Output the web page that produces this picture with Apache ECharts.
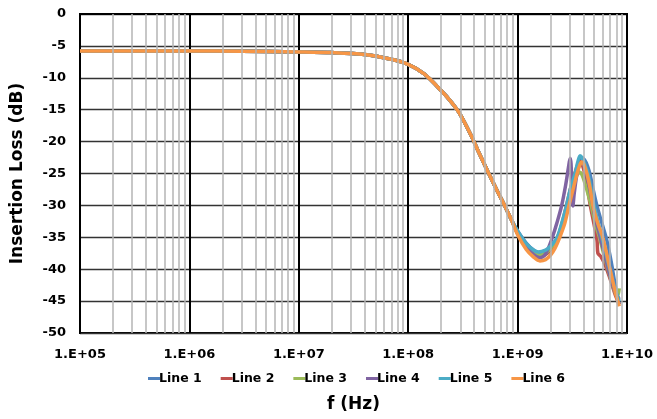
<!DOCTYPE html>
<html>
<head>
<meta charset="utf-8">
<script src="https://cdn.jsdelivr.net/npm/echarts@6/dist/echarts.min.js"></script>
<style>
  html, body { margin: 0; padding: 0; background: #fff; }
  #chart { width: 657px; height: 419px; }
</style>
</head>
<body>
<div id="chart"></div>
<script>
// Shared low-frequency part (all six traces overlap here)
const freqBase = [1e5, 3e5, 1e6, 3e6, 1e7, 2e7, 4e7, 7e7, 1e8, 1.4e8, 2e8, 2.5e8, 3e8, 3.8e8, 4.5e8, 5.45e8, 6.5e8, 7.6e8, 8.8e8];
const lossBase = [-5.8, -5.8, -5.8, -5.85, -5.95, -6.05, -6.35, -7.1, -7.9, -9.4, -12.0, -13.9, -15.8, -19.2, -22.0, -25.0, -27.7, -30.0, -32.3];

// Resonance region, per trace
const freq1 = [1e9, 1.2e9, 1.4e9, 1.6e9, 1.8e9, 2e9, 2.3e9, 2.55e9, 2.8e9, 3.05e9, 3.35e9, 3.6e9, 3.85e9, 4.1e9, 4.35e9, 4.6e9, 4.95e9, 5.3e9, 5.9e9, 6.5e9, 7.2e9, 7.8e9, 8.5e9];
const loss1 = [-34.0, -35.9, -37.0, -37.4, -37.2, -36.6, -35.3, -33.2, -30.8, -28.2, -25.6, -23.5, -22.5, -22.9, -23.8, -25.2, -27.8, -30.0, -32.8, -35.3, -39.0, -42.5, -45.5];

const freq2 = [1e9, 1.2e9, 1.4e9, 1.6e9, 1.8e9, 2e9, 2.3e9, 2.55e9, 2.8e9, 3.05e9, 3.35e9, 3.55e9, 3.72e9, 4.0e9, 4.3e9, 4.62e9, 5.0e9, 5.32e9, 5.42e9, 5.75e9, 6.3e9, 7.0e9, 7.8e9, 8.5e9];
const loss2 = [-34.4, -36.5, -37.7, -38.0, -37.7, -37.0, -35.2, -32.8, -30.0, -27.3, -24.9, -23.6, -23.1, -24.2, -26.8, -30.0, -33.0, -35.5, -37.5, -38.0, -39.3, -41.5, -44.0, -45.5];

const freq3 = [1e9, 1.2e9, 1.4e9, 1.6e9, 1.8e9, 2e9, 2.3e9, 2.55e9, 2.8e9, 3.05e9, 3.35e9, 3.55e9, 3.7e9, 3.9e9, 4.2e9, 4.5e9, 4.75e9, 5.2e9, 5.6e9, 6.1e9, 6.7e9, 7.3e9, 7.9e9, 8.2e9, 8.5e9];
const loss3 = [-34.4, -36.3, -37.5, -37.8, -37.5, -36.8, -35.2, -33.0, -30.5, -28.0, -25.9, -25.0, -24.8, -25.3, -27.0, -28.8, -30.3, -33.2, -35.0, -37.5, -40.0, -42.2, -43.9, -44.2, -43.0];

const freq4 = [1e9, 1.2e9, 1.4e9, 1.6e9, 1.75e9, 1.9e9, 2.08e9, 2.3e9, 2.53e9, 2.75e9, 2.92e9, 3.02e9, 3.08e9, 3.14e9, 3.2e9, 3.3e9, 3.5e9, 3.75e9, 4.0e9, 4.3e9, 4.7e9, 5.1e9, 5.6e9, 6.3e9, 7.0e9, 7.8e9, 8.5e9];
const loss4 = [-34.3, -36.4, -37.7, -38.2, -37.9, -36.8, -35.0, -32.6, -30.0, -26.8, -24.0, -22.6, -23.5, -27.5, -30.1, -28.0, -25.0, -23.4, -23.6, -25.4, -28.6, -31.8, -34.5, -38.0, -41.0, -43.6, -44.7];

const freq5 = [1e9, 1.2e9, 1.4e9, 1.55e9, 1.8e9, 2e9, 2.3e9, 2.55e9, 2.8e9, 3.05e9, 3.35e9, 3.55e9, 3.72e9, 3.9e9, 4.15e9, 4.4e9, 4.7e9, 5.0e9, 5.5e9, 6.2e9, 7.0e9, 7.8e9, 8.5e9];
const loss5 = [-34.0, -36.0, -37.0, -37.3, -37.0, -36.4, -35.0, -32.6, -30.0, -27.3, -25.0, -23.2, -22.2, -22.6, -23.7, -25.0, -27.5, -30.0, -33.0, -36.5, -40.2, -43.2, -45.0];

const freq6 = [1e9, 1.2e9, 1.4e9, 1.6e9, 1.8e9, 2e9, 2.2e9, 2.43e9, 2.7e9, 2.95e9, 3.2e9, 3.5e9, 3.7e9, 3.85e9, 4.0e9, 4.3e9, 4.6e9, 4.87e9, 5.4e9, 6.0e9, 7.0e9, 7.8e9, 8.5e9];
const loss6 = [-34.6, -36.9, -38.1, -38.7, -38.5, -37.8, -36.7, -35.0, -32.8, -30.0, -27.6, -25.0, -23.7, -23.2, -23.4, -25.0, -27.3, -30.0, -32.8, -35.0, -40.0, -43.5, -45.8];

const names = ['Line 1', 'Line 2', 'Line 3', 'Line 4', 'Line 5', 'Line 6'];
const colors = ['#4F81BD', '#C0504D', '#9BBB59', '#8064A2', '#4BACC6', '#F79646'];
const freqs = [freq1, freq2, freq3, freq4, freq5, freq6];
const losses = [loss1, loss2, loss3, loss4, loss5, loss6];

const FONT = '"DejaVu Sans", Verdana, sans-serif';

function pairs(fx, ly) {
    return fx.map((f, i) => [f, ly[i]]);
}

// minor vertical gridlines at 2..9 of every decade
const minorLines = [];
for (let d = 5; d < 10; d++) {
    for (let m = 2; m <= 9; m++) minorLines.push({ xAxis: m * Math.pow(10, d) });
}

const series = names.map((name, i) => ({
    name,
    type: 'line',
    data: pairs(freqBase, lossBase).concat(pairs(freqs[i], losses[i])),
    showSymbol: false,
    smooth: 0.3,
    lineStyle: { width: 3.5, color: colors[i] },
    itemStyle: { color: colors[i] },
    z: 3,
}));

series.unshift({
    name: 'minor',
    type: 'line',
    data: [],
    z: 1,
    silent: true,
    markLine: {
        silent: true,
        symbol: 'none',
        label: { show: false },
        lineStyle: { color: '#b4b4b4', width: 1.5, type: 'solid' },
        data: minorLines,
        animation: false,
    },
});

const chart = echarts.init(document.getElementById('chart'), null, { renderer: 'canvas' });
chart.setOption({
    animation: false,
    backgroundColor: '#fff',
    textStyle: { fontFamily: FONT },
    grid: {
        left: 80, right: 30, top: 14, bottom: 86,
        show: true, borderColor: '#000', borderWidth: 2, backgroundColor: 'transparent',
    },
    legend: {
        data: names,
        bottom: 29,
        left: 143,
        icon: 'rect',
        itemWidth: 12,
        itemHeight: 3,
        itemGap: 19,
        textStyle: { fontFamily: FONT, fontWeight: 'bold', fontSize: 12.5, color: '#000', padding: [0, 0, 0, -6] },
    },
    xAxis: {
        type: 'log',
        logBase: 10,
        min: 1e5,
        max: 1e10,
        name: 'f (Hz)',
        nameLocation: 'middle',
        nameGap: 63,
        nameTextStyle: { fontFamily: FONT, fontWeight: 'bold', fontSize: 17, color: '#000' },
        axisLine: { show: true, lineStyle: { color: '#000', width: 2 } },
        axisTick: { show: false },
        axisLabel: {
            margin: 15,
            color: '#000',
            fontFamily: FONT,
            fontWeight: 'bold',
            fontSize: 13,
            showMaxLabel: true,
            showMinLabel: true,
            formatter: (v) => '1.E+' + String(Math.round(Math.log10(v))).padStart(2, '0'),
        },
        splitLine: { show: true, lineStyle: { color: '#000', width: 2 } },
    },
    yAxis: {
        type: 'value',
        min: -50,
        max: 0,
        interval: 5,
        name: 'Insertion Loss (dB)',
        nameLocation: 'middle',
        nameGap: 54,
        nameTextStyle: { fontFamily: FONT, fontWeight: 'bold', fontSize: 17, color: '#000' },
        axisLine: { show: true, lineStyle: { color: '#000', width: 2 } },
        axisTick: { show: false },
        axisLabel: { margin: 14, color: '#000', fontFamily: FONT, fontWeight: 'bold', fontSize: 13 },
        splitLine: { show: true, lineStyle: { color: '#333', width: 1.3 } },
    },
    series,
});
</script>
</body>
</html>
